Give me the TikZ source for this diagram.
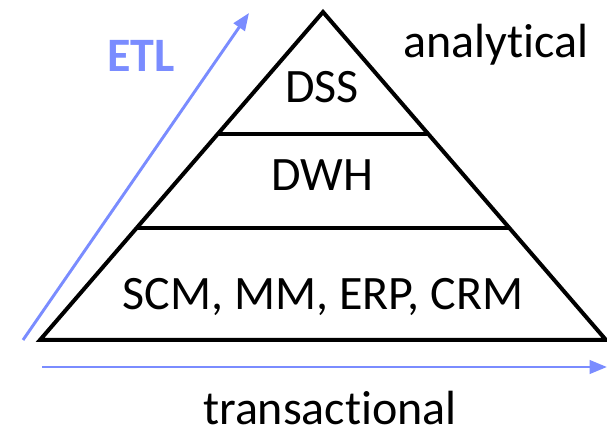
\documentclass[tikz,border=0pt]{standalone}
\usepackage{fontspec}
\setmainfont{Carlito}[Ligatures={NoCommon}]
\usetikzlibrary{arrows.meta}
\definecolor{etlblue}{RGB}{122,140,255}
\begin{document}
\begin{tikzpicture}[x=0.75pt,y=-0.75pt,
  lvl/.style={line width=3pt,black},
  flow/.style={line width=2.2pt,etlblue,-{Triangle[length=13pt,width=10pt]}},
  lbl/.style={font=\fontsize{36}{40}\selectfont,anchor=base,inner sep=0pt}]
\useasboundingbox (0,0) rectangle (607,434);
\coordinate (top) at (323,12);
\coordinate (bl) at (40,340);
\coordinate (br) at (606,340);
\coordinate (l1) at (217.7,134);
\coordinate (r1) at (428.3,134);
\coordinate (l2) at (136.6,228);
\coordinate (r2) at (509.4,228);
\draw[lvl,line join=miter] (top) -- (bl) -- (br) -- cycle;
\draw[lvl] (l1) -- (r1);
\draw[lvl] (l2) -- (r2);
\node[lbl] (dss) at (322,103) {DSS};
\node[lbl] (dwh) at (322,191) {DWH};
\node[lbl] (sys) at (323,310) {SCM, MM, ERP, CRM};
\node[lbl] (ana) at (496,58) {analytical};
\node[lbl] (tra) at (330,425) {transactional};
\node[lbl,font=\fontsize{36}{40}\selectfont\bfseries,text=etlblue] (etl) at (141,72) {ETL};
\coordinate (a1s) at (23,340);
\coordinate (a1e) at (249,13);
\coordinate (a2s) at (42,367);
\coordinate (a2e) at (607,367);
\draw[flow] (a1s) -- (a1e);
\draw[flow] (a2s) -- (a2e);
\end{tikzpicture}
\end{document}
